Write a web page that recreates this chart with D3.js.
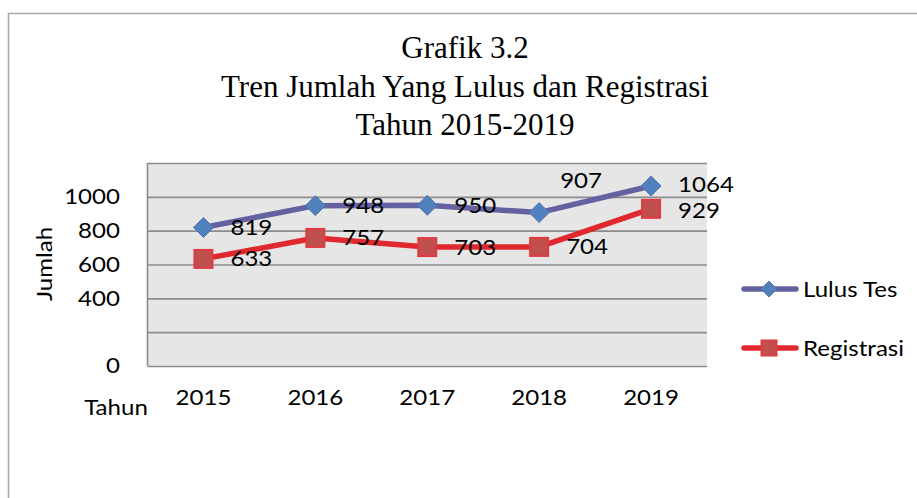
<!DOCTYPE html>
<html>
<head>
<meta charset="utf-8">
<script src="https://cdn.jsdelivr.net/npm/d3@7"></script>
<style>
  html, body { margin: 0; padding: 0; background: #fff; }
  svg { display: block; }
</style>
</head>
<body>
<svg id="chart" width="917" height="498"></svg>
<script>
// ---- data ----
const years = ["2015", "2016", "2017", "2018", "2019"];
const lulusTes = [819, 948, 950, 907, 1064];
const registrasi = [633, 757, 703, 704, 929];
const yTickLabels = [0, 400, 600, 800, 1000];
const gridValues = [0, 200, 400, 600, 800, 1000, 1200];
const seriesNames = ["Lulus Tes", "Registrasi"];
const titleLines = ["Grafik 3.2", "Tren Jumlah Yang Lulus dan Registrasi", "Tahun 2015-2019"];

// ---- layout ----
const svg = d3.select("#chart");
const plot = { left: 147.5, right: 707, top: 163, bottom: 366 };
const sansFont = "Lato, 'Open Sans', sans-serif";
const fs = 21.5;
const sx = 1.12;

const x = d3.scaleBand().domain(years).range([plot.left, plot.right]);
const y = d3.scaleLinear().domain([0, 1200]).range([plot.bottom, plot.top]);
const cx = d => x(d) + x.bandwidth() / 2;

function sText(parent, tx, ty, str, anchor, extra) {
  return parent.append("text")
    .attr("transform", `translate(${tx},${ty})${extra || ""} scale(${sx},1)`)
    .attr("text-anchor", anchor || "start")
    .attr("font-family", sansFont)
    .attr("font-size", fs)
    .attr("fill", "#000")
    .text(str);
}

// outer frame
svg.append("rect")
  .attr("x", 8.5).attr("y", 13.5)
  .attr("width", 1000).attr("height", 600)
  .attr("fill", "none")
  .attr("stroke", "#a6a6a6")
  .attr("stroke-width", 1.5);

// title
svg.append("g").selectAll("text")
  .data(titleLines)
  .join("text")
  .attr("x", 465)
  .attr("y", (d, i) => 58 + i * 38.5)
  .attr("text-anchor", "middle")
  .attr("font-family", "'Liberation Serif', 'Times New Roman', serif")
  .attr("font-size", 31)
  .attr("fill", "#000")
  .text(d => d);

// plot background
svg.append("rect")
  .attr("x", plot.left).attr("y", plot.top)
  .attr("width", plot.right - plot.left)
  .attr("height", plot.bottom - plot.top)
  .attr("fill", "#e6e6e6");

// gridlines
const grid = svg.append("g")
  .attr("transform", `translate(${plot.left},0)`)
  .call(d3.axisLeft(y).tickValues(gridValues).tickSize(-(plot.right - plot.left)).tickFormat(""));
grid.select(".domain").remove();
grid.selectAll(".tick line").attr("stroke", "#8c8c8c").attr("stroke-width", 1.6);

// left plot border
svg.append("line")
  .attr("x1", plot.left).attr("x2", plot.left)
  .attr("y1", plot.top).attr("y2", plot.bottom)
  .attr("stroke", "#8c8c8c").attr("stroke-width", 1.6);

// y tick labels
const yAxis = svg.append("g")
  .attr("transform", `translate(120,0)`)
  .call(d3.axisLeft(y).tickValues(yTickLabels).tickFormat(d3.format("d")).tickSize(0).tickPadding(0));
yAxis.select(".domain").remove();
yAxis.selectAll("text")
  .attr("font-family", sansFont)
  .attr("font-size", fs)
  .attr("fill", "#000")
  .attr("transform", `scale(${sx},1)`);

// x tick labels
const xAxis = svg.append("g")
  .attr("transform", `translate(0,${plot.bottom})`)
  .call(d3.axisBottom(x).tickSize(0).tickPadding(24));
xAxis.select(".domain").remove();
xAxis.selectAll("text")
  .attr("font-family", sansFont)
  .attr("font-size", fs)
  .attr("fill", "#000")
  .attr("transform", `scale(${sx},1)`);

// axis titles
sText(svg, 52, 264, "Jumlah", "middle", " rotate(-90)");
sText(svg, 116, 415, "Tahun", "middle");

// series
const lineGen = d3.line().x((d, i) => cx(years[i])).y(d => y(d));
const styles = [
  { line: "#6461a0", fill: "#4f81bd", stroke: "#5374b3", marker: "diamond" },
  { line: "#e0282f", fill: "#c0504d", stroke: "#e03b40", marker: "square" }
];
const allSeries = [lulusTes, registrasi];

function drawMarker(g, type, px, py, s) {
  if (type === "diamond") {
    g.append("path")
      .attr("d", `M${px},${py - s}L${px + s},${py}L${px},${py + s}L${px - s},${py}Z`)
      .attr("fill", styles[0].fill).attr("stroke", styles[0].stroke).attr("stroke-width", 1);
  } else {
    g.append("rect")
      .attr("x", px - s).attr("y", py - s)
      .attr("width", 2 * s).attr("height", 2 * s)
      .attr("fill", styles[1].fill).attr("stroke", styles[1].stroke).attr("stroke-width", 2);
  }
}

allSeries.forEach((vals, si) => {
  const g = svg.append("g");
  g.append("path")
    .datum(vals)
    .attr("d", lineGen)
    .attr("fill", "none")
    .attr("stroke", styles[si].line)
    .attr("stroke-width", 5.5)
    .attr("stroke-linejoin", "round");
  vals.forEach((v, i) => {
    drawMarker(g, styles[si].marker, cx(years[i]), y(v), si === 0 ? 10 : 9);
  });
});

// data labels (placement offsets: label right of point; the 2018 "Lulus Tes" label sits above)
const labelLayer = svg.append("g");
allSeries.forEach((vals, si) => {
  vals.forEach((v, i) => {
    let dx = 27, dy = 7.5;
    if (si === 0 && i === 3) { dx = 21; dy = -24.5; }
    if (i === 4) { dy = si === 0 ? 5.5 : 9.5; }
    sText(labelLayer, cx(years[i]) + dx, y(v) + dy, v, "start");
  });
});

// legend
const legendY = [289, 348];
seriesNames.forEach((name, si) => {
  const g = svg.append("g");
  g.append("line")
    .attr("x1", 744).attr("x2", 796)
    .attr("y1", legendY[si]).attr("y2", legendY[si])
    .attr("stroke", styles[si].line)
    .attr("stroke-width", 5.5)
    .attr("stroke-linecap", "round");
  drawMarker(g, styles[si].marker, 769, legendY[si], si === 0 ? 8 : 7.5);
  sText(g, 803, legendY[si] + 8, name, "start");
});
</script>
</body>
</html>
